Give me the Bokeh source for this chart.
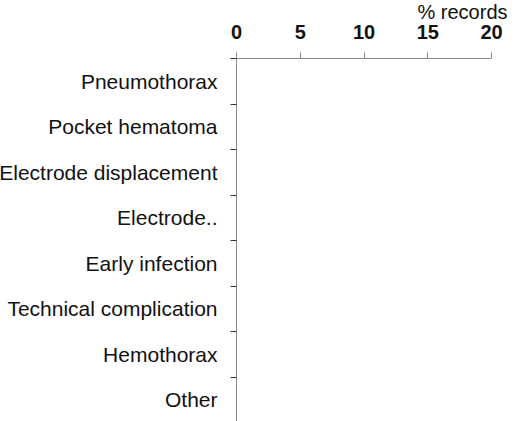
from bokeh.plotting import figure
from bokeh.models import Range1d, FixedTicker
from bokeh.embed import file_html
from bokeh.resources import INLINE

categories = ["Pneumothorax", "Pocket hematoma", "Electrode displacement", "Electrode..",
              "Early infection", "Technical complication", "Hemothorax", "Other"]
values = [0, 0, 0, 0, 0, 0, 0, 0]
x_ticks = [0, 5, 10, 15, 20]
x_label = "% records"

n = len(categories)
ypos = [i + 0.5 for i in range(n)]

p = figure(width=515, height=422, output_backend="svg", toolbar_location=None,
           x_range=Range1d(0, 20), y_range=Range1d(n, 0), x_axis_location="above",
           min_border_left=0, min_border_right=20, min_border_bottom=0, min_border_top=0)
p.styles = {"margin-left": "-4px", "margin-bottom": "-16px"}
p.outline_line_color = None
p.grid.visible = False
p.background_fill_color = "white"

p.hbar(y=ypos, left=0, right=values, height=0.7, fill_color="#4e79a7", line_color=None)

FONT = "Liberation Sans"
xa = p.xaxis[0]
xa.ticker = FixedTicker(ticks=x_ticks, minor_ticks=[])
xa.major_label_text_font = FONT
xa.major_label_text_font_size = "20px"
xa.major_label_text_font_style = "bold"
xa.major_label_text_color = "#111111"
xa.major_tick_out = 6
xa.major_tick_in = 0
xa.minor_tick_out = 0
xa.minor_tick_in = 0
xa.major_label_standoff = 14
xa.axis_line_color = "#8a8a8a"
xa.major_tick_line_color = "#8a8a8a"

p.title.text = x_label
p.title.align = "right"
p.title.text_font = FONT
p.title.text_font_size = "20px"
p.title.text_font_style = "normal"
p.title.text_color = "#111111"
p.title.standoff = -3
p.title.offset = -16

ya = p.yaxis[0]
ya.ticker = FixedTicker(ticks=ypos, minor_ticks=list(range(0, n + 1)))
ya.major_label_overrides = {y: c for y, c in zip(ypos, categories)}
ya.major_label_text_font = FONT
ya.major_label_text_font_size = "21px"
ya.major_label_text_color = "#111111"
ya.major_tick_out = 0
ya.major_tick_in = 0
ya.minor_tick_out = 6
ya.minor_tick_in = 0
ya.major_label_standoff = 13
ya.axis_line_color = "#8a8a8a"
ya.minor_tick_line_color = "#333333"

open("out.html", "w").write(file_html(p, INLINE))
